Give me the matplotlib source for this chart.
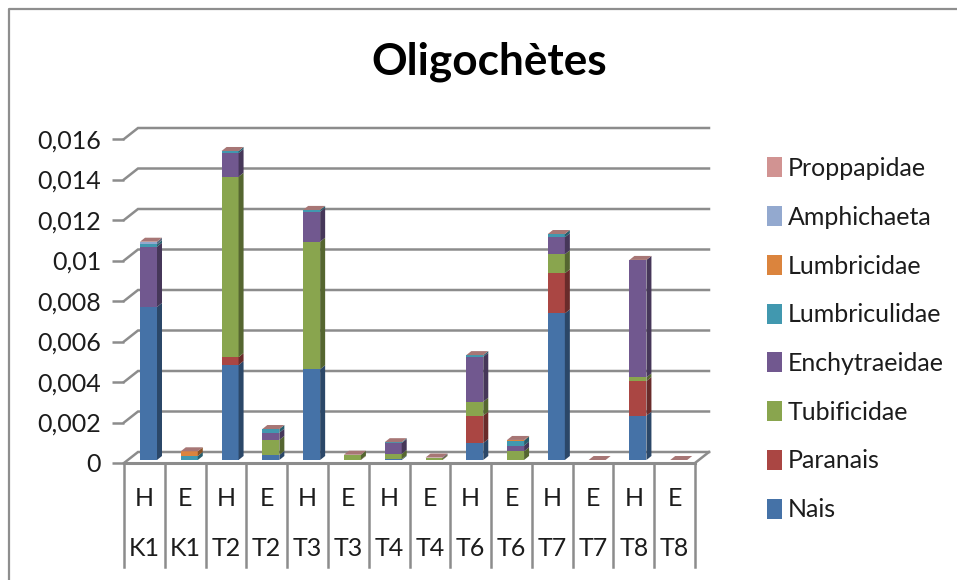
import matplotlib
matplotlib.use('Agg')
import matplotlib.pyplot as plt
from matplotlib.lines import Line2D
from matplotlib.patches import Polygon, Rectangle
from matplotlib.colors import to_rgb

plt.rcParams['font.family'] = ['Lato', 'DejaVu Sans']

sites = ['K1', 'K1', 'T2', 'T2', 'T3', 'T3', 'T4', 'T4', 'T6', 'T6', 'T7', 'T7', 'T8', 'T8']
seasons = ['H', 'E', 'H', 'E', 'H', 'E', 'H', 'E', 'H', 'E', 'H', 'E', 'H', 'E']

# valeurs, une liste par famille
nais = [0.00756, 0, 0.00469, 0.00025, 0.00448, 0, 0.00004, 0, 0.00084, 0, 0.00724, 0, 0.00219, 0]
paranais = [0, 0, 0.00039, 0, 0, 0.00002, 0, 0.00002, 0.00135, 0, 0.00198, 0, 0.00171, 0]
tubificidae = [0, 0, 0.00891, 0.00074, 0.0063, 0.00024, 0.00026, 0.00006, 0.00069, 0.00043, 0.00094, 0, 0.00018, 0]
enchytraeidae = [0.00297, 0, 0.00117, 0.00036, 0.00148, 0, 0.00054, 0.00004, 0.00222, 0.00028, 0.00084, 0, 0.0058, 0]
lumbriculidae = [0.00012, 0.0002, 0.0001, 0.00018, 0.00009, 0, 0.00004, 0, 0.00008, 0.00025, 0.00016, 0, 0, 0]
lumbricidae = [0, 0.00023, 0, 0, 0, 0, 0, 0, 0, 0.00003, 0, 0, 0, 0]
amphichaeta = [0.00013, 0, 0, 0, 0, 0, 0, 0, 0, 0, 0, 0, 0, 0]
proppapidae = [0, 0, 0, 0, 0, 0, 0, 0, 0, 0, 0, 0, 0, 0]

names = ['Nais', 'Paranais', 'Tubificidae', 'Enchytraeidae', 'Lumbriculidae',
         'Lumbricidae', 'Amphichaeta', 'Proppapidae']
series = [nais, paranais, tubificidae, enchytraeidae, lumbriculidae,
          lumbricidae, amphichaeta, proppapidae]
colors = ['#4572A7', '#AA4643', '#89A54E', '#71588F', '#4198AF', '#DB843D', '#93A9CF', '#D19392']

y_ticks = [0, 0.002, 0.004, 0.006, 0.008, 0.01, 0.012, 0.014, 0.016]
y_labels = ['0', '0,002', '0,004', '0,006', '0,008', '0,01', '0,012', '0,014', '0,016']

W, H = 957, 580
GRID = '#8C8C8C'
TXT = '#1C1C1C'


def darker(c, f):
    return tuple(v * f for v in to_rgb(c))


fig = plt.figure(figsize=(W / 100, H / 100), dpi=100)
fig.patch.set_facecolor('white')
# cadre du graphique : seulement a gauche et en haut
fig.add_artist(Line2D([9 / W, 9 / W, 1], [0, 1 - 9 / H, 1 - 9 / H], transform=fig.transFigure,
                      color='#8E8E8E', lw=1.6))

ax = fig.add_axes([124 / W, 1 - 463 / H, 571 / W, 324 / H])
ax.set_xlim(0, 14)
ax.set_ylim(0, 0.016)
ax.patch.set_alpha(0)
for s in ax.spines.values():
    s.set_visible(False)

px = 14 / 571  # un pixel en x
py = 0.016 / 324  # un pixel en y
depth_x, depth_y = 14 * px, 11 * py

# murs : lignes obliques et lignes du fond
for v in y_ticks:
    ax.plot([0, depth_x, 14 + depth_x], [v, v + depth_y, v + depth_y], color=GRID, lw=1.8,
            clip_on=False, zorder=1, solid_joinstyle='miter')
ax.plot([14, 14 + depth_x], [0, depth_y], color=GRID, lw=1.8, clip_on=False, zorder=1)
ax.plot([0, 14], [0, 0], color=GRID, lw=2.2, clip_on=False, zorder=6)

# barres empilees en 3D
bar_w = 17 * px
bar_dx, bar_dy = 5 * px, 4 * py
base = 3 * py
for i in range(len(sites)):
    x0 = i + 16 * px
    bottom = base
    for vals, c in zip(series, colors):
        v = vals[i]
        if v > 0:
            ax.bar(x0, v, width=bar_w, bottom=bottom, align='edge', color=c, lw=0, zorder=3, clip_on=False)
            ax.add_patch(Polygon([(x0 + bar_w, bottom), (x0 + bar_w + bar_dx, bottom + bar_dy),
                                  (x0 + bar_w + bar_dx, bottom + v + bar_dy), (x0 + bar_w, bottom + v)],
                                 closed=True, fc=darker(c, 0.62), lw=0, zorder=3, clip_on=False))
            bottom += v
    ax.add_patch(Polygon([(x0, bottom), (x0 + bar_w, bottom), (x0 + bar_w + bar_dx, bottom + bar_dy),
                          (x0 + bar_dx, bottom + bar_dy)],
                         closed=True, fc=darker(colors[-1], 0.8), lw=0, zorder=4, clip_on=False))

ax.set_yticks(y_ticks, y_labels)
ax.tick_params(axis='y', length=9, width=1.8, color=GRID, labelsize=18, pad=7.5, labelcolor=TXT)
ax.set_xticks([])

# axe des categories a deux niveaux
trans = ax.get_xaxis_transform()
for i in range(len(sites) + 1):
    ax.plot([i, i], [0, -104 / 324], transform=trans, color=GRID, lw=1.8, clip_on=False, zorder=5)
for i in range(len(sites)):
    ax.text(i + 0.5, -36 / 324, seasons[i], transform=trans, ha='center', va='center', fontsize=18, color=TXT)
    ax.text(i + 0.5, -86 / 324, sites[i], transform=trans, ha='center', va='center', fontsize=18, color=TXT)

fig.text(489.5 / W, 1 - 62 / H, 'Oligochètes', ha='center', va='center', fontsize=31.8, fontweight='bold', color='black')

# legende, du haut vers le bas
handles = [Rectangle((0, 0), 1, 1, fc=c, lw=0) for c in colors[::-1]]
fig.legend(handles, names[::-1], loc='upper left', bbox_to_anchor=(767 / W, 1 - 157 / H), frameon=False,
           fontsize=18, labelspacing=1.03, handlelength=0.6, handleheight=0.85, handletextpad=0.24,
           labelcolor=TXT, borderaxespad=0, borderpad=0)

fig.savefig('out.png', dpi=100)
